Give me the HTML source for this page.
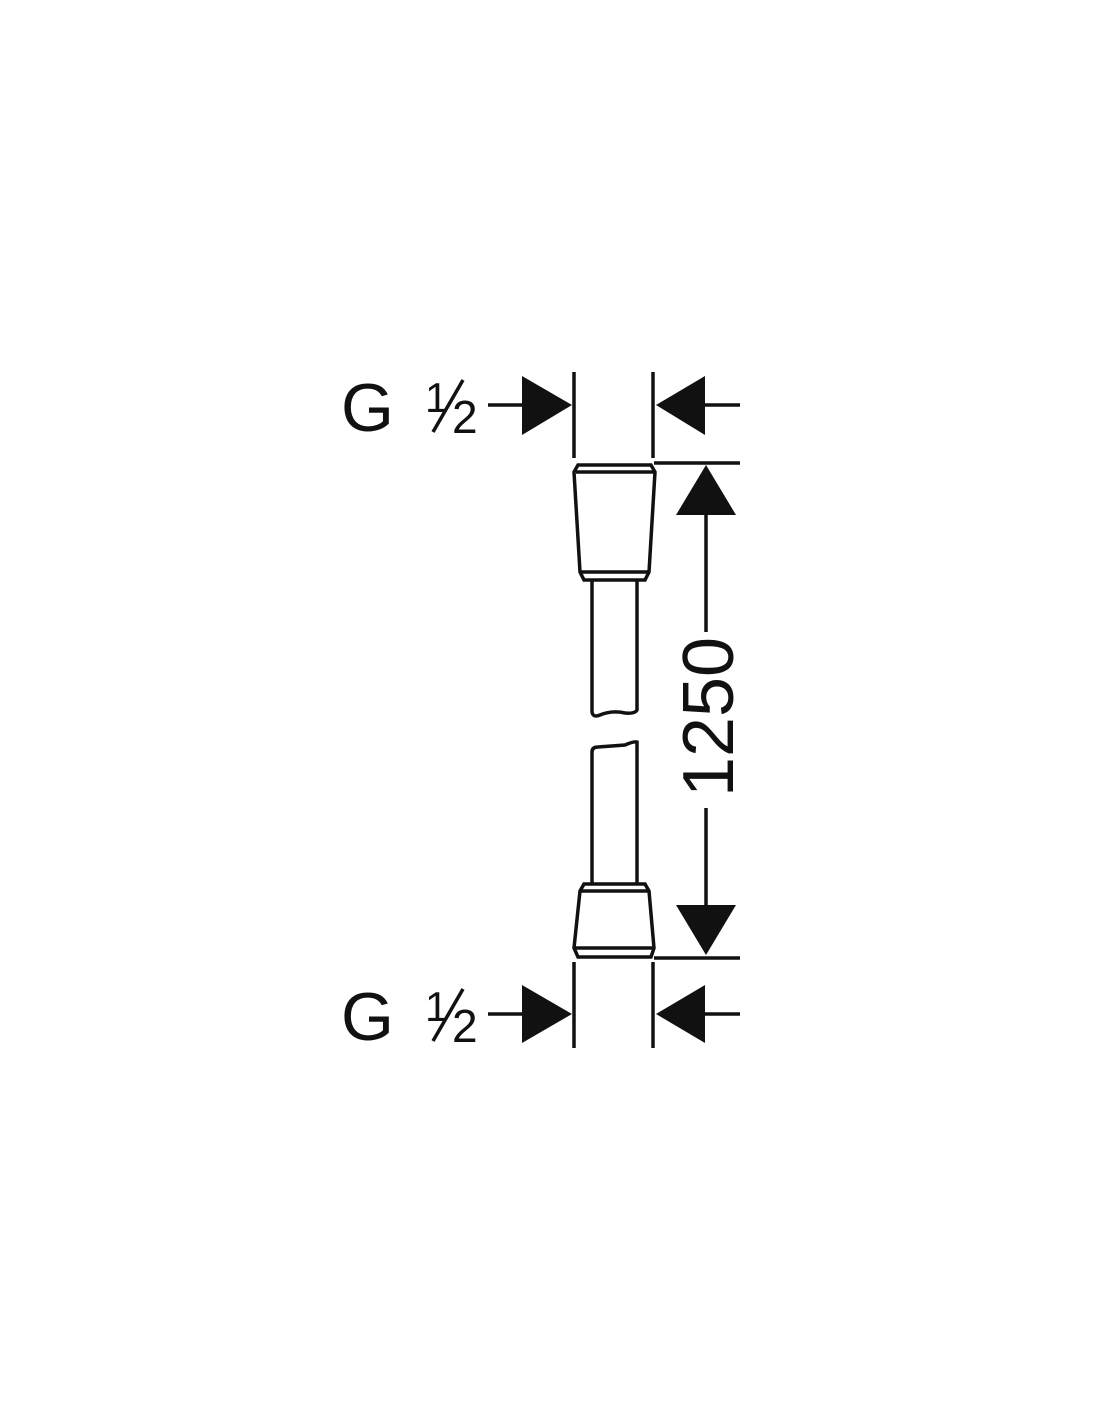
<!DOCTYPE html>
<html><head><style>body{margin:0;background:#fff}svg{display:block}</style></head><body>
<svg width="1100" height="1422" viewBox="0 0 1100 1422" xmlns="http://www.w3.org/2000/svg">
<g stroke="#111" stroke-width="3.5" fill="none">
<line x1="574" y1="372" x2="574" y2="458"/>
<line x1="653" y1="372" x2="653" y2="458"/>
<line x1="488" y1="405" x2="524" y2="405"/>
<line x1="704" y1="405" x2="740" y2="405"/>
<line x1="574" y1="962" x2="574" y2="1048"/>
<line x1="653" y1="962" x2="653" y2="1048"/>
<line x1="488" y1="1014" x2="524" y2="1014"/>
<line x1="704" y1="1014" x2="740" y2="1014"/>
<line x1="654" y1="463" x2="740" y2="463"/>
<line x1="654" y1="958" x2="740" y2="958"/>
<line x1="706" y1="510" x2="706" y2="632"/>
<line x1="706" y1="808" x2="706" y2="910"/>
<path d="M578 465 L651 465 L655 472 L649 572 L645 580 L584 580 L580 572 L574 472 Z"/>
<line x1="576" y1="472" x2="654" y2="472"/>
<line x1="580" y1="572" x2="649" y2="572"/>
<path d="M592 580 L592 712 Q593 718 600 715 Q612 710 625 713 Q635 714 637 710 L637 580"/>
<path d="M592 884 L592 752 Q592 747 598 747 Q612 746 625 745 Q634 741 637 742 L637 884"/>
<path d="M584 884 L645 884 L649 891 L654 948 L651 957 L578 957 L574 948 L580 891 Z"/>
<line x1="580" y1="891" x2="649" y2="891"/>
<line x1="575" y1="948" x2="654" y2="948"/>
<line x1="433" y1="432" x2="463" y2="380"/>
<line x1="433" y1="1041" x2="463" y2="989"/>
</g>
<g fill="#111">
<polygon points="522,376 572,405 522,435"/>
<polygon points="705,376 656,405 705,435"/>
<polygon points="522,985 572,1014 522,1043"/>
<polygon points="705,985 656,1014 705,1043"/>
<polygon points="706,465 676,515 736,515"/>
<polygon points="706,955 676,905 736,905"/>
</g>
<g font-family="'Liberation Sans',sans-serif" fill="#111">
<text x="341" y="431" font-size="68">G</text>
<text x="425" y="412" font-size="42">1</text>
<text x="452" y="433" font-size="46">2</text>
<text x="341" y="1040" font-size="68">G</text>
<text x="425" y="1021" font-size="42">1</text>
<text x="452" y="1042" font-size="46">2</text>
<text transform="translate(733,797) rotate(-90)" font-size="72" textLength="160" lengthAdjust="spacing">1250</text>
</g>
</svg>
</body></html>
